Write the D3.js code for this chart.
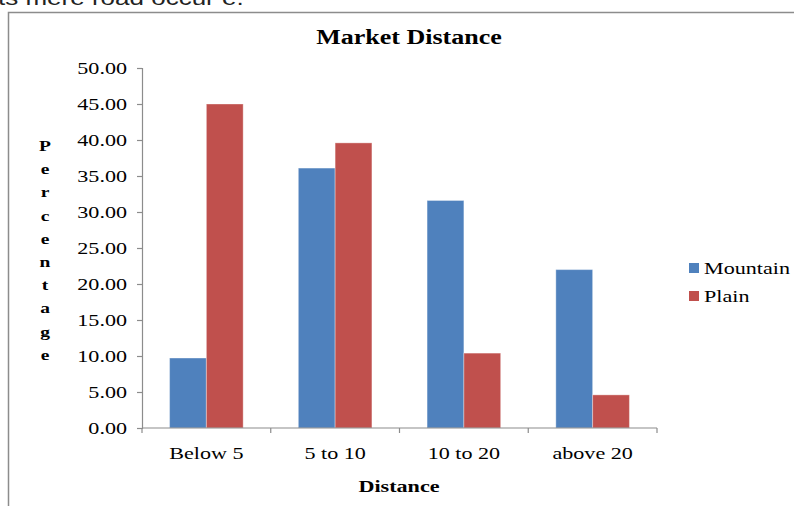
<!DOCTYPE html>
<html>
<head>
<meta charset="utf-8">
<script src="https://cdn.jsdelivr.net/npm/d3@7"></script>
<style>
  html, body { margin: 0; padding: 0; background: #fff; }
  svg { display: block; }
  text { font-family: "Liberation Serif", "Times New Roman", serif; }
</style>
</head>
<body>
<svg id="chart" width="794" height="506"></svg>
<script>
// Share of respondents by distance to market, per region
const categories = ["Below 5", "5 to 10", "10 to 20", "above 20"];
const seriesNames = ["Mountain", "Plain"];
const mountain = [9.72, 36.1, 31.6, 22.0];
const plain = [45.0, 39.6, 10.4, 4.6];
const yTicks = [0, 5, 10, 15, 20, 25, 30, 35, 40, 45, 50];
const colors = ["#4F81BD", "#C0504D"];

const svg = d3.select("#chart");
const W = 794, H = 506;
const WIDEN = 1.3; // horizontal stretch of the lettering

// Running text of the page, clipped by the top edge
svg.append("text")
  .attr("x", -2).attr("y", 5)
  .style("font-family", "'Liberation Sans', Arial, sans-serif")
  .style("font-size", "20px")
  .attr("fill", "#222")
  .attr("class", "wide")
  .text("ts mere road occur e.");

// Chart frame
svg.append("path")
  .attr("d", `M8.5,${H} V12.5 H${W}`)
  .attr("fill", "none")
  .attr("stroke", "#8c8c8c")
  .attr("stroke-width", 1.5);

const plot = { left: 142, right: 657, top: 68, bottom: 428 };

const x0 = d3.scaleBand()
  .domain(categories)
  .range([plot.left, plot.right])
  .paddingInner(0).paddingOuter(0);

// Excel-style gap width of 150% between groups
const barW = x0.bandwidth() / (seriesNames.length + 1.5);
const x1 = d3.scaleBand()
  .domain(seriesNames)
  .range([0, barW * seriesNames.length]);

const y = d3.scaleLinear().domain([0, 50]).range([plot.bottom, plot.top]);

const rows = categories.map((c, i) => ({ cat: c, values: [mountain[i], plain[i]] }));

// Bars
const groups = svg.append("g").selectAll("g")
  .data(rows).join("g")
  .attr("transform", d => `translate(${x0(d.cat) + (x0.bandwidth() - barW * 2) / 2},0)`);

groups.selectAll("rect")
  .data(d => d.values.map((v, k) => ({ name: seriesNames[k], v, k })))
  .join("rect")
  .attr("x", d => x1(d.name))
  .attr("width", x1.bandwidth())
  .attr("y", d => y(d.v))
  .attr("height", d => y(0) - y(d.v))
  .attr("fill", d => colors[d.k])
  .attr("stroke", "rgba(255,255,255,0.35)")
  .attr("stroke-width", 1);

// Y axis
const yAxis = d3.axisLeft(y)
  .tickValues(yTicks)
  .tickFormat(d3.format(".2f"))
  .tickSize(5)
  .tickPadding(10);

const gy = svg.append("g")
  .attr("transform", `translate(${plot.left},0)`)
  .call(yAxis);
gy.select(".domain").attr("stroke", "#8c8c8c").attr("stroke-width", 1.2);
gy.selectAll(".tick line").attr("stroke", "#8c8c8c").attr("stroke-width", 1.2);
gy.selectAll(".tick text")
  .attr("class", "wide")
  .style("font-family", "'Liberation Serif', serif")
  .style("font-size", "17px")
  .attr("fill", "#000");

// X axis with ticks on the category boundaries
const gx = svg.append("g")
  .attr("transform", `translate(0,${plot.bottom})`);
gx.append("line")
  .attr("x1", plot.left).attr("x2", plot.right)
  .attr("stroke", "#8c8c8c").attr("stroke-width", 1.2);
const bounds = categories.map(c => x0(c)).concat([plot.right]);
gx.selectAll("line.tk")
  .data(bounds).join("line")
  .attr("class", "tk")
  .attr("x1", d => d).attr("x2", d => d)
  .attr("y1", 0).attr("y2", 5)
  .attr("stroke", "#8c8c8c").attr("stroke-width", 1.2);
gx.selectAll("text")
  .data(categories).join("text")
  .attr("class", "wide")
  .attr("x", d => x0(d) + x0.bandwidth() / 2)
  .attr("y", 31)
  .attr("text-anchor", "middle")
  .style("font-size", "17px")
  .attr("fill", "#000")
  .text(d => d);

// Titles
svg.append("text")
  .attr("class", "wide")
  .attr("x", 409).attr("y", 44)
  .attr("text-anchor", "middle")
  .style("font-size", "20px")
  .style("font-weight", "bold")
  .text("Market Distance");

svg.append("text")
  .attr("class", "wide")
  .attr("x", 399).attr("y", 492)
  .attr("text-anchor", "middle")
  .style("font-size", "17px")
  .style("font-weight", "bold")
  .text("Distance");

// Vertical, letter-stacked y title
const yTitle = "Percentage".split("");
svg.append("g").selectAll("text")
  .data(yTitle).join("text")
  .attr("class", "wide")
  .attr("x", 45)
  .attr("y", (d, i) => 151 + i * 23.2)
  .attr("text-anchor", "middle")
  .style("font-size", "15px")
  .style("font-weight", "bold")
  .text(d => d);

// Legend
const legend = svg.append("g").selectAll("g")
  .data(seriesNames).join("g")
  .attr("transform", (d, i) => `translate(689,${263 + i * 28})`);
legend.append("rect")
  .attr("width", 10).attr("height", 10)
  .attr("fill", (d, i) => colors[i]);
legend.append("text")
  .attr("class", "wide")
  .attr("x", 15).attr("y", 11)
  .style("font-size", "17px")
  .attr("fill", "#000")
  .text(d => d);

// Widen the lettering horizontally, keeping each anchor in place
svg.selectAll("text.wide").each(function () {
  const w = this.getComputedTextLength();
  d3.select(this)
    .attr("textLength", w * WIDEN)
    .attr("lengthAdjust", "spacingAndGlyphs");
});
</script>
</body>
</html>
